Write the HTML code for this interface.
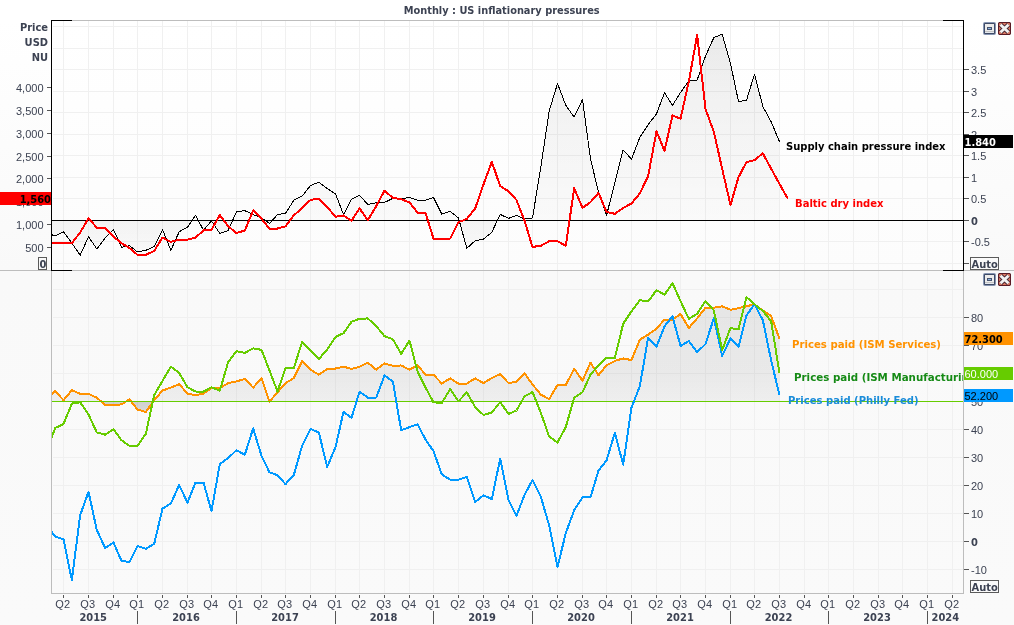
<!DOCTYPE html>
<html lang="en"><head><meta charset="utf-8"><title>Monthly : US inflationary pressures</title>
<style>
html,body{margin:0;padding:0;background:#fff;}
body{width:1014px;height:625px;overflow:hidden;font-family:"Liberation Sans","DejaVu Sans",sans-serif;}
svg{display:block}
</style></head><body>
<svg width="1014" height="625" viewBox="0 0 1014 625">
<defs>
<linearGradient id="bg1" x1="0" y1="0" x2="0" y2="1"><stop offset="0" stop-color="#ffffff"/><stop offset="1" stop-color="#f9f9f9"/></linearGradient>
<linearGradient id="bg1p" x1="0" y1="0" x2="0" y2="1"><stop offset="0" stop-color="#ffffff"/><stop offset="1" stop-color="#fcfcfc"/></linearGradient>
<linearGradient id="bg2" x1="0" y1="0" x2="0" y2="1"><stop offset="0" stop-color="#f9f9f9"/><stop offset="1" stop-color="#fafafa"/></linearGradient>
<linearGradient id="f1a" gradientUnits="userSpaceOnUse" x1="0" y1="34" x2="0" y2="220"><stop offset="0" stop-color="#000" stop-opacity="0.085"/><stop offset="0.3" stop-color="#000" stop-opacity="0.052"/><stop offset="1" stop-color="#000" stop-opacity="0.012"/></linearGradient>
<linearGradient id="f1b" gradientUnits="userSpaceOnUse" x1="0" y1="220" x2="0" y2="255"><stop offset="0" stop-color="#000" stop-opacity="0.042"/><stop offset="1" stop-color="#000" stop-opacity="0.012"/></linearGradient>
<linearGradient id="f2a" gradientUnits="userSpaceOnUse" x1="0" y1="304" x2="0" y2="401"><stop offset="0" stop-color="#000" stop-opacity="0.078"/><stop offset="0.7" stop-color="#000" stop-opacity="0.066"/><stop offset="1" stop-color="#000" stop-opacity="0.045"/></linearGradient>
<linearGradient id="f2b" gradientUnits="userSpaceOnUse" x1="0" y1="401" x2="0" y2="413"><stop offset="0" stop-color="#000" stop-opacity="0.17"/><stop offset="1" stop-color="#000" stop-opacity="0.13"/></linearGradient>
<clipPath id="c1"><rect x="52" y="21" width="911" height="249"/></clipPath>
<clipPath id="c2"><rect x="52" y="271" width="911" height="322"/></clipPath>
<clipPath id="c1a"><rect x="52" y="21" width="911" height="200"/></clipPath>
<clipPath id="c1b"><rect x="52" y="221" width="911" height="49"/></clipPath>
<clipPath id="c2a"><rect x="52" y="271" width="911" height="130.5"/></clipPath>
<clipPath id="c2b"><rect x="52" y="401.5" width="911" height="191"/></clipPath>
</defs>
<rect x="0" y="0" width="1014" height="625" fill="#fff"/>
<rect x="0" y="20" width="1014" height="250" fill="url(#bg1)"/>
<rect x="52" y="21" width="911" height="249" fill="url(#bg1p)"/>
<rect x="0" y="270" width="1014" height="355" fill="url(#bg2)"/>
<g shape-rendering="crispEdges" stroke="#f0f0f0" stroke-width="1" fill="none">
<line x1="63.5" y1="21" x2="63.5" y2="593"/>
<line x1="88.5" y1="21" x2="88.5" y2="593"/>
<line x1="113.5" y1="21" x2="113.5" y2="593"/>
<line x1="137.5" y1="21" x2="137.5" y2="593"/>
<line x1="162.5" y1="21" x2="162.5" y2="593"/>
<line x1="187.5" y1="21" x2="187.5" y2="593"/>
<line x1="211.5" y1="21" x2="211.5" y2="593"/>
<line x1="236.5" y1="21" x2="236.5" y2="593"/>
<line x1="261.5" y1="21" x2="261.5" y2="593"/>
<line x1="285.5" y1="21" x2="285.5" y2="593"/>
<line x1="310.5" y1="21" x2="310.5" y2="593"/>
<line x1="335.5" y1="21" x2="335.5" y2="593"/>
<line x1="359.5" y1="21" x2="359.5" y2="593"/>
<line x1="384.5" y1="21" x2="384.5" y2="593"/>
<line x1="409.5" y1="21" x2="409.5" y2="593"/>
<line x1="433.5" y1="21" x2="433.5" y2="593"/>
<line x1="458.5" y1="21" x2="458.5" y2="593"/>
<line x1="483.5" y1="21" x2="483.5" y2="593"/>
<line x1="508.5" y1="21" x2="508.5" y2="593"/>
<line x1="532.5" y1="21" x2="532.5" y2="593"/>
<line x1="557.5" y1="21" x2="557.5" y2="593"/>
<line x1="582.5" y1="21" x2="582.5" y2="593"/>
<line x1="606.5" y1="21" x2="606.5" y2="593"/>
<line x1="631.5" y1="21" x2="631.5" y2="593"/>
<line x1="656.5" y1="21" x2="656.5" y2="593"/>
<line x1="680.5" y1="21" x2="680.5" y2="593"/>
<line x1="705.5" y1="21" x2="705.5" y2="593"/>
<line x1="730.5" y1="21" x2="730.5" y2="593"/>
<line x1="754.5" y1="21" x2="754.5" y2="593"/>
<line x1="779.5" y1="21" x2="779.5" y2="593"/>
<line x1="804.5" y1="21" x2="804.5" y2="593"/>
<line x1="828.5" y1="21" x2="828.5" y2="593"/>
<line x1="853.5" y1="21" x2="853.5" y2="593"/>
<line x1="878.5" y1="21" x2="878.5" y2="593"/>
<line x1="902.5" y1="21" x2="902.5" y2="593"/>
<line x1="927.5" y1="21" x2="927.5" y2="593"/>
<line x1="952.5" y1="21" x2="952.5" y2="593"/>
<line x1="53" y1="263.5" x2="963" y2="263.5"/>
<line x1="53" y1="241.5" x2="963" y2="241.5"/>
<line x1="53" y1="198.5" x2="963" y2="198.5"/>
<line x1="53" y1="177.5" x2="963" y2="177.5"/>
<line x1="53" y1="155.5" x2="963" y2="155.5"/>
<line x1="53" y1="134.5" x2="963" y2="134.5"/>
<line x1="53" y1="112.5" x2="963" y2="112.5"/>
<line x1="53" y1="91.5" x2="963" y2="91.5"/>
<line x1="53" y1="69.5" x2="963" y2="69.5"/>
<line x1="53" y1="48.5" x2="963" y2="48.5"/>
<line x1="53" y1="26.5" x2="963" y2="26.5"/>
<line x1="53" y1="569.5" x2="963" y2="569.5"/>
<line x1="53" y1="541.5" x2="963" y2="541.5"/>
<line x1="53" y1="513.5" x2="963" y2="513.5"/>
<line x1="53" y1="485.5" x2="963" y2="485.5"/>
<line x1="53" y1="457.5" x2="963" y2="457.5"/>
<line x1="53" y1="429.5" x2="963" y2="429.5"/>
<line x1="53" y1="373.5" x2="963" y2="373.5"/>
<line x1="53" y1="345.5" x2="963" y2="345.5"/>
<line x1="53" y1="317.5" x2="963" y2="317.5"/>
<line x1="53" y1="289.5" x2="963" y2="289.5"/>
</g>
<path d="M47.04,220.5 L47.04,233.00 L55.27,236.03 L63.50,231.66 L71.83,243.08 L80.17,255.18 L88.50,236.70 L96.83,248.97 L105.17,238.04 L113.50,229.64 L121.50,247.28 L129.50,245.60 L137.50,251.99 L145.83,250.31 L154.17,246.44 L162.50,229.64 L170.83,250.31 L179.17,231.83 L187.50,227.12 L195.50,215.36 L203.50,230.15 L211.50,220.91 L219.83,233.55 L228.17,230.52 L236.50,211.71 L244.83,210.70 L253.17,214.56 L261.50,217.92 L269.50,223.47 L277.50,214.56 L285.50,213.39 L293.83,200.28 L302.17,196.08 L310.50,185.50 L318.83,182.14 L327.17,188.52 L335.50,193.90 L343.50,214.56 L351.50,199.11 L359.50,195.24 L367.83,204.48 L376.17,202.80 L384.50,202.42 L392.83,198.39 L401.17,198.72 L409.50,197.38 L417.50,200.07 L425.50,200.07 L433.50,197.38 L441.83,214.18 L450.17,211.32 L458.50,218.04 L466.83,248.29 L475.17,240.73 L483.50,239.05 L491.83,232.33 L500.17,214.35 L508.50,218.38 L516.50,215.52 L524.50,218.88 L532.50,218.00 L540.83,166.80 L549.17,111.20 L557.50,83.50 L565.83,105.40 L574.17,117.10 L582.50,99.50 L590.50,159.00 L598.50,192.00 L606.50,215.50 L614.83,182.70 L623.17,149.90 L631.50,159.10 L639.83,137.30 L648.17,124.70 L656.50,113.80 L664.50,92.80 L672.50,105.40 L680.50,92.50 L688.83,81.00 L697.17,80.00 L705.50,56.10 L713.83,37.60 L722.17,34.30 L730.50,63.70 L738.50,101.50 L746.50,100.30 L754.50,74.10 L762.83,106.50 L771.17,121.80 L779.50,141.75 L779.50,220.5 Z" fill="url(#f1a)" clip-path="url(#c1a)"/>
<path d="M47.04,220.5 L47.04,233.00 L55.27,236.03 L63.50,231.66 L71.83,243.08 L80.17,255.18 L88.50,236.70 L96.83,248.97 L105.17,238.04 L113.50,229.64 L121.50,247.28 L129.50,245.60 L137.50,251.99 L145.83,250.31 L154.17,246.44 L162.50,229.64 L170.83,250.31 L179.17,231.83 L187.50,227.12 L195.50,215.36 L203.50,230.15 L211.50,220.91 L219.83,233.55 L228.17,230.52 L236.50,211.71 L244.83,210.70 L253.17,214.56 L261.50,217.92 L269.50,223.47 L277.50,214.56 L285.50,213.39 L293.83,200.28 L302.17,196.08 L310.50,185.50 L318.83,182.14 L327.17,188.52 L335.50,193.90 L343.50,214.56 L351.50,199.11 L359.50,195.24 L367.83,204.48 L376.17,202.80 L384.50,202.42 L392.83,198.39 L401.17,198.72 L409.50,197.38 L417.50,200.07 L425.50,200.07 L433.50,197.38 L441.83,214.18 L450.17,211.32 L458.50,218.04 L466.83,248.29 L475.17,240.73 L483.50,239.05 L491.83,232.33 L500.17,214.35 L508.50,218.38 L516.50,215.52 L524.50,218.88 L532.50,218.00 L540.83,166.80 L549.17,111.20 L557.50,83.50 L565.83,105.40 L574.17,117.10 L582.50,99.50 L590.50,159.00 L598.50,192.00 L606.50,215.50 L614.83,182.70 L623.17,149.90 L631.50,159.10 L639.83,137.30 L648.17,124.70 L656.50,113.80 L664.50,92.80 L672.50,105.40 L680.50,92.50 L688.83,81.00 L697.17,80.00 L705.50,56.10 L713.83,37.60 L722.17,34.30 L730.50,63.70 L738.50,101.50 L746.50,100.30 L754.50,74.10 L762.83,106.50 L771.17,121.80 L779.50,141.75 L779.50,220.5 Z" fill="url(#f1b)" clip-path="url(#c1b)"/>
<line x1="52" y1="220.5" x2="963" y2="220.5" stroke="#000" stroke-width="1" shape-rendering="crispEdges"/>
<polyline points="47.04,233.00 55.27,236.03 63.50,231.66 71.83,243.08 80.17,255.18 88.50,236.70 96.83,248.97 105.17,238.04 113.50,229.64 121.50,247.28 129.50,245.60 137.50,251.99 145.83,250.31 154.17,246.44 162.50,229.64 170.83,250.31 179.17,231.83 187.50,227.12 195.50,215.36 203.50,230.15 211.50,220.91 219.83,233.55 228.17,230.52 236.50,211.71 244.83,210.70 253.17,214.56 261.50,217.92 269.50,223.47 277.50,214.56 285.50,213.39 293.83,200.28 302.17,196.08 310.50,185.50 318.83,182.14 327.17,188.52 335.50,193.90 343.50,214.56 351.50,199.11 359.50,195.24 367.83,204.48 376.17,202.80 384.50,202.42 392.83,198.39 401.17,198.72 409.50,197.38 417.50,200.07 425.50,200.07 433.50,197.38 441.83,214.18 450.17,211.32 458.50,218.04 466.83,248.29 475.17,240.73 483.50,239.05 491.83,232.33 500.17,214.35 508.50,218.38 516.50,215.52 524.50,218.88 532.50,218.00 540.83,166.80 549.17,111.20 557.50,83.50 565.83,105.40 574.17,117.10 582.50,99.50 590.50,159.00 598.50,192.00 606.50,215.50 614.83,182.70 623.17,149.90 631.50,159.10 639.83,137.30 648.17,124.70 656.50,113.80 664.50,92.80 672.50,105.40 680.50,92.50 688.83,81.00 697.17,80.00 705.50,56.10 713.83,37.60 722.17,34.30 730.50,63.70 738.50,101.50 746.50,100.30 754.50,74.10 762.83,106.50 771.17,121.80 779.50,141.75" fill="none" stroke="#000" stroke-width="1" stroke-linejoin="round" shape-rendering="crispEdges" clip-path="url(#c1)"/>
<polyline points="47.04,244.76 55.27,242.58 63.50,242.58 71.83,243.08 80.17,232.50 88.50,218.39 96.83,227.63 105.17,227.96 113.50,236.87 121.50,243.08 129.50,248.12 137.50,254.85 145.83,254.85 154.17,250.98 162.50,237.54 170.83,241.91 179.17,239.72 187.50,239.72 195.50,237.54 203.50,230.48 211.50,229.64 219.83,215.07 228.17,226.32 236.50,233.04 244.83,230.52 253.17,210.36 261.50,218.76 269.50,228.84 277.50,228.51 285.50,226.32 293.83,215.40 302.17,207.84 310.50,199.95 318.83,198.60 327.17,207.00 335.50,216.75 343.50,215.40 351.50,220.95 359.50,208.35 367.83,220.11 376.17,206.16 384.50,190.66 392.83,197.88 401.17,199.23 409.50,202.42 417.50,212.67 425.50,213.00 433.50,238.54 441.83,238.54 450.17,238.54 458.50,222.24 466.83,218.88 475.17,208.47 483.50,184.44 491.83,161.76 500.17,186.12 508.50,191.16 516.50,200.07 524.50,220.56 532.50,246.94 540.83,245.77 549.17,241.23 557.50,241.23 565.83,245.77 574.17,188.31 582.50,207.96 590.50,202.08 598.50,192.84 606.50,211.83 614.83,213.84 623.17,207.96 631.50,203.43 639.83,193.35 648.17,176.04 656.50,131.40 664.50,150.70 672.50,115.40 680.50,118.80 688.83,81.50 697.17,34.80 705.50,109.00 713.83,131.80 722.17,168.80 730.50,204.90 738.50,177.20 746.50,162.10 754.50,160.10 762.83,153.30 771.17,168.80 779.50,183.90 787.83,198.80" fill="none" stroke="#ff0000" stroke-width="2" stroke-linejoin="round" shape-rendering="crispEdges" clip-path="url(#c1)"/>
<path d="M47.04,401.5 L47.04,397.72 L55.27,391.00 L63.50,400.24 L71.83,390.16 L80.17,393.86 L88.50,393.86 L96.83,397.72 L105.17,404.78 L113.50,404.78 L121.50,404.44 L129.50,399.40 L137.50,409.48 L145.83,412.00 L154.17,400.24 L162.50,390.50 L170.83,387.64 L179.17,384.28 L187.50,393.52 L195.50,395.20 L203.50,393.52 L211.50,388.17 L219.83,388.17 L228.17,383.12 L236.50,381.44 L244.83,378.92 L253.17,387.66 L261.50,378.08 L269.50,401.61 L277.50,392.37 L285.50,383.12 L293.83,378.08 L302.17,360.95 L310.50,369.68 L318.83,374.72 L327.17,369.18 L335.50,368.51 L343.50,366.66 L351.50,368.84 L359.50,366.83 L367.83,362.63 L376.17,369.64 L384.50,363.43 L392.83,365.78 L401.17,365.44 L409.50,369.64 L417.50,365.11 L425.50,374.68 L433.50,374.68 L441.83,383.59 L450.17,378.38 L458.50,383.59 L466.83,383.59 L475.17,378.38 L483.50,383.08 L491.83,378.04 L500.17,374.18 L508.50,383.08 L516.50,381.91 L524.50,373.34 L532.50,384.48 L540.83,394.56 L549.17,399.10 L557.50,384.99 L565.83,384.82 L574.17,368.86 L582.50,380.62 L590.50,362.64 L598.50,375.24 L606.50,365.16 L614.83,360.96 L623.17,358.44 L631.50,360.12 L639.83,339.68 L648.17,334.64 L656.50,328.76 L664.50,319.52 L672.50,319.52 L680.50,313.98 L688.83,327.92 L697.17,318.35 L705.50,307.64 L713.83,307.64 L722.17,306.30 L730.50,309.83 L738.50,308.15 L746.50,306.30 L754.50,304.28 L762.83,310.50 L771.17,316.04 L779.50,338.72 L779.50,401.5 Z" fill="url(#f2a)" clip-path="url(#c2a)"/>
<path d="M47.04,401.5 L47.04,397.72 L55.27,391.00 L63.50,400.24 L71.83,390.16 L80.17,393.86 L88.50,393.86 L96.83,397.72 L105.17,404.78 L113.50,404.78 L121.50,404.44 L129.50,399.40 L137.50,409.48 L145.83,412.00 L154.17,400.24 L162.50,390.50 L170.83,387.64 L179.17,384.28 L187.50,393.52 L195.50,395.20 L203.50,393.52 L211.50,388.17 L219.83,388.17 L228.17,383.12 L236.50,381.44 L244.83,378.92 L253.17,387.66 L261.50,378.08 L269.50,401.61 L277.50,392.37 L285.50,383.12 L293.83,378.08 L302.17,360.95 L310.50,369.68 L318.83,374.72 L327.17,369.18 L335.50,368.51 L343.50,366.66 L351.50,368.84 L359.50,366.83 L367.83,362.63 L376.17,369.64 L384.50,363.43 L392.83,365.78 L401.17,365.44 L409.50,369.64 L417.50,365.11 L425.50,374.68 L433.50,374.68 L441.83,383.59 L450.17,378.38 L458.50,383.59 L466.83,383.59 L475.17,378.38 L483.50,383.08 L491.83,378.04 L500.17,374.18 L508.50,383.08 L516.50,381.91 L524.50,373.34 L532.50,384.48 L540.83,394.56 L549.17,399.10 L557.50,384.99 L565.83,384.82 L574.17,368.86 L582.50,380.62 L590.50,362.64 L598.50,375.24 L606.50,365.16 L614.83,360.96 L623.17,358.44 L631.50,360.12 L639.83,339.68 L648.17,334.64 L656.50,328.76 L664.50,319.52 L672.50,319.52 L680.50,313.98 L688.83,327.92 L697.17,318.35 L705.50,307.64 L713.83,307.64 L722.17,306.30 L730.50,309.83 L738.50,308.15 L746.50,306.30 L754.50,304.28 L762.83,310.50 L771.17,316.04 L779.50,338.72 L779.50,401.5 Z" fill="url(#f2b)" clip-path="url(#c2b)"/>
<polyline points="47.04,397.72 55.27,391.00 63.50,400.24 71.83,390.16 80.17,393.86 88.50,393.86 96.83,397.72 105.17,404.78 113.50,404.78 121.50,404.44 129.50,399.40 137.50,409.48 145.83,412.00 154.17,400.24 162.50,390.50 170.83,387.64 179.17,384.28 187.50,393.52 195.50,395.20 203.50,393.52 211.50,388.17 219.83,388.17 228.17,383.12 236.50,381.44 244.83,378.92 253.17,387.66 261.50,378.08 269.50,401.61 277.50,392.37 285.50,383.12 293.83,378.08 302.17,360.95 310.50,369.68 318.83,374.72 327.17,369.18 335.50,368.51 343.50,366.66 351.50,368.84 359.50,366.83 367.83,362.63 376.17,369.64 384.50,363.43 392.83,365.78 401.17,365.44 409.50,369.64 417.50,365.11 425.50,374.68 433.50,374.68 441.83,383.59 450.17,378.38 458.50,383.59 466.83,383.59 475.17,378.38 483.50,383.08 491.83,378.04 500.17,374.18 508.50,383.08 516.50,381.91 524.50,373.34 532.50,384.48 540.83,394.56 549.17,399.10 557.50,384.99 565.83,384.82 574.17,368.86 582.50,380.62 590.50,362.64 598.50,375.24 606.50,365.16 614.83,360.96 623.17,358.44 631.50,360.12 639.83,339.68 648.17,334.64 656.50,328.76 664.50,319.52 672.50,319.52 680.50,313.98 688.83,327.92 697.17,318.35 705.50,307.64 713.83,307.64 722.17,306.30 730.50,309.83 738.50,308.15 746.50,306.30 754.50,304.28 762.83,310.50 771.17,316.04 779.50,338.72" fill="none" stroke="#ff9200" stroke-width="2" stroke-linejoin="round" shape-rendering="crispEdges" clip-path="url(#c2)"/>
<line x1="52" y1="401.5" x2="963" y2="401.5" stroke="#66cc00" stroke-width="1" shape-rendering="crispEdges"/>
<polyline points="47.04,525.36 55.27,536.79 63.50,539.14 71.83,579.97 80.17,515.28 88.50,491.76 96.83,530.07 105.17,548.04 113.50,542.50 121.50,560.98 129.50,561.99 137.50,545.86 145.83,548.88 154.17,543.84 162.50,508.56 170.83,503.52 179.17,485.04 187.50,502.68 195.50,482.52 203.50,482.52 211.50,511.08 219.83,463.97 228.17,458.08 236.50,450.19 244.83,454.72 253.17,428.35 261.50,455.90 269.50,472.37 277.50,475.22 285.50,484.13 293.83,474.89 302.17,445.48 310.50,429.02 318.83,432.38 327.17,466.99 335.50,447.16 343.50,411.88 351.50,417.76 359.50,391.72 367.83,397.60 376.17,397.60 384.50,375.52 392.83,381.40 401.17,430.16 409.50,427.14 417.50,424.28 425.50,439.40 433.50,451.16 441.83,474.35 450.17,479.72 458.50,479.72 466.83,476.87 475.17,502.07 483.50,495.35 491.83,499.05 500.17,458.72 508.50,499.89 516.50,515.85 524.50,494.85 532.50,480.04 540.83,496.84 549.17,525.40 557.50,567.07 565.83,532.96 574.17,510.28 582.50,497.35 590.50,497.35 598.50,470.56 606.50,460.48 614.83,432.76 623.17,464.68 631.50,407.56 639.83,386.20 648.17,337.58 656.50,346.83 664.50,326.36 672.50,316.26 680.50,345.99 688.83,340.94 697.17,352.16 705.50,344.03 713.83,318.22 722.17,355.81 730.50,338.42 738.50,346.83 746.50,315.42 754.50,304.20 762.83,320.19 771.17,360.58 779.50,395.08" fill="none" stroke="#0099ff" stroke-width="2" stroke-linejoin="round" shape-rendering="crispEdges" clip-path="url(#c2)"/>
<polyline points="47.04,449.81 55.27,427.96 63.50,424.10 71.83,403.60 80.17,402.26 88.50,414.52 96.83,432.50 105.17,434.68 113.50,429.14 121.50,440.23 129.50,445.94 137.50,445.94 145.83,433.84 154.17,395.20 162.50,380.92 170.83,366.64 179.17,373.02 187.50,387.31 195.50,391.51 203.50,391.51 211.50,387.33 219.83,390.69 228.17,362.12 236.50,351.20 244.83,352.88 253.17,348.35 261.50,349.86 269.50,370.52 277.50,391.53 285.50,368.34 293.83,368.00 302.17,341.96 310.50,350.36 318.83,359.10 327.17,349.52 335.50,336.92 343.50,333.23 351.50,321.80 359.50,318.78 367.83,318.44 376.17,326.08 384.50,336.17 392.83,339.26 401.17,353.85 409.50,340.66 417.50,371.24 425.50,387.51 433.50,402.37 441.83,402.93 450.17,389.19 458.50,401.25 466.83,392.27 475.17,407.14 483.50,414.99 491.83,412.47 500.17,402.09 508.50,413.87 516.50,410.51 524.50,396.48 532.50,391.99 540.83,412.75 549.17,436.59 557.50,442.48 565.83,427.06 574.17,397.60 582.50,392.27 590.50,374.60 598.50,365.35 606.50,357.77 614.83,358.05 623.17,323.83 631.50,311.21 639.83,300.27 648.17,301.39 656.50,290.17 664.50,294.66 672.50,283.16 680.50,301.11 688.83,318.78 697.17,313.73 705.50,301.11 713.83,310.37 722.17,350.20 730.50,328.04 738.50,329.44 746.50,297.18 754.50,304.20 762.83,310.93 771.17,321.31 779.50,373.20" fill="none" stroke="#66cc00" stroke-width="2" stroke-linejoin="round" shape-rendering="crispEdges" clip-path="url(#c2)"/>
<g shape-rendering="crispEdges" fill="none" stroke-width="1">
<line x1="51" y1="20.5" x2="964" y2="20.5" stroke="#bdbdbd"/>
<line x1="0" y1="270.5" x2="1014" y2="270.5" stroke="#bdbdbd"/>
<line x1="51" y1="593.5" x2="964" y2="593.5" stroke="#bdbdbd"/>
<line x1="51.5" y1="270" x2="51.5" y2="594" stroke="#bdbdbd"/>
<line x1="963.5" y1="270" x2="963.5" y2="594" stroke="#bdbdbd"/>
<line x1="51.5" y1="20" x2="51.5" y2="271" stroke="#000"/>
<line x1="963.5" y1="20" x2="963.5" y2="271" stroke="#000"/>
<line x1="51" y1="20.5" x2="72" y2="20.5" stroke="#000"/>
<line x1="943" y1="20.5" x2="964" y2="20.5" stroke="#000"/>
<line x1="51" y1="270.5" x2="72" y2="270.5" stroke="#000"/>
<line x1="943" y1="270.5" x2="964" y2="270.5" stroke="#000"/>
<line x1="47" y1="247.5" x2="51" y2="247.5" stroke="#555"/>
<line x1="47" y1="224.5" x2="51" y2="224.5" stroke="#555"/>
<line x1="47" y1="201.5" x2="51" y2="201.5" stroke="#555"/>
<line x1="47" y1="178.5" x2="51" y2="178.5" stroke="#555"/>
<line x1="47" y1="156.5" x2="51" y2="156.5" stroke="#555"/>
<line x1="47" y1="133.5" x2="51" y2="133.5" stroke="#555"/>
<line x1="47" y1="110.5" x2="51" y2="110.5" stroke="#555"/>
<line x1="47" y1="87.5" x2="51" y2="87.5" stroke="#555"/>
<line x1="964" y1="263.5" x2="969" y2="263.5" stroke="#555"/>
<line x1="964" y1="241.5" x2="969" y2="241.5" stroke="#555"/>
<line x1="964" y1="220.5" x2="969" y2="220.5" stroke="#555"/>
<line x1="964" y1="198.5" x2="969" y2="198.5" stroke="#555"/>
<line x1="964" y1="177.5" x2="969" y2="177.5" stroke="#555"/>
<line x1="964" y1="155.5" x2="969" y2="155.5" stroke="#555"/>
<line x1="964" y1="134.5" x2="969" y2="134.5" stroke="#555"/>
<line x1="964" y1="112.5" x2="969" y2="112.5" stroke="#555"/>
<line x1="964" y1="91.5" x2="969" y2="91.5" stroke="#555"/>
<line x1="964" y1="69.5" x2="969" y2="69.5" stroke="#555"/>
<line x1="964" y1="569.5" x2="969" y2="569.5" stroke="#555"/>
<line x1="964" y1="541.5" x2="969" y2="541.5" stroke="#555"/>
<line x1="964" y1="513.5" x2="969" y2="513.5" stroke="#555"/>
<line x1="964" y1="485.5" x2="969" y2="485.5" stroke="#555"/>
<line x1="964" y1="457.5" x2="969" y2="457.5" stroke="#555"/>
<line x1="964" y1="429.5" x2="969" y2="429.5" stroke="#555"/>
<line x1="964" y1="401.5" x2="969" y2="401.5" stroke="#555"/>
<line x1="964" y1="373.5" x2="969" y2="373.5" stroke="#555"/>
<line x1="964" y1="345.5" x2="969" y2="345.5" stroke="#555"/>
<line x1="964" y1="317.5" x2="969" y2="317.5" stroke="#555"/>
<line x1="63.5" y1="595" x2="63.5" y2="598" stroke="#555"/>
<line x1="88.5" y1="595" x2="88.5" y2="598" stroke="#555"/>
<line x1="113.5" y1="595" x2="113.5" y2="598" stroke="#555"/>
<line x1="137.5" y1="595" x2="137.5" y2="598" stroke="#555"/>
<line x1="137.5" y1="611" x2="137.5" y2="624" stroke="#555"/>
<line x1="162.5" y1="595" x2="162.5" y2="598" stroke="#555"/>
<line x1="187.5" y1="595" x2="187.5" y2="598" stroke="#555"/>
<line x1="211.5" y1="595" x2="211.5" y2="598" stroke="#555"/>
<line x1="236.5" y1="595" x2="236.5" y2="598" stroke="#555"/>
<line x1="236.5" y1="611" x2="236.5" y2="624" stroke="#555"/>
<line x1="261.5" y1="595" x2="261.5" y2="598" stroke="#555"/>
<line x1="285.5" y1="595" x2="285.5" y2="598" stroke="#555"/>
<line x1="310.5" y1="595" x2="310.5" y2="598" stroke="#555"/>
<line x1="335.5" y1="595" x2="335.5" y2="598" stroke="#555"/>
<line x1="335.5" y1="611" x2="335.5" y2="624" stroke="#555"/>
<line x1="359.5" y1="595" x2="359.5" y2="598" stroke="#555"/>
<line x1="384.5" y1="595" x2="384.5" y2="598" stroke="#555"/>
<line x1="409.5" y1="595" x2="409.5" y2="598" stroke="#555"/>
<line x1="433.5" y1="595" x2="433.5" y2="598" stroke="#555"/>
<line x1="433.5" y1="611" x2="433.5" y2="624" stroke="#555"/>
<line x1="458.5" y1="595" x2="458.5" y2="598" stroke="#555"/>
<line x1="483.5" y1="595" x2="483.5" y2="598" stroke="#555"/>
<line x1="508.5" y1="595" x2="508.5" y2="598" stroke="#555"/>
<line x1="532.5" y1="595" x2="532.5" y2="598" stroke="#555"/>
<line x1="532.5" y1="611" x2="532.5" y2="624" stroke="#555"/>
<line x1="557.5" y1="595" x2="557.5" y2="598" stroke="#555"/>
<line x1="582.5" y1="595" x2="582.5" y2="598" stroke="#555"/>
<line x1="606.5" y1="595" x2="606.5" y2="598" stroke="#555"/>
<line x1="631.5" y1="595" x2="631.5" y2="598" stroke="#555"/>
<line x1="631.5" y1="611" x2="631.5" y2="624" stroke="#555"/>
<line x1="656.5" y1="595" x2="656.5" y2="598" stroke="#555"/>
<line x1="680.5" y1="595" x2="680.5" y2="598" stroke="#555"/>
<line x1="705.5" y1="595" x2="705.5" y2="598" stroke="#555"/>
<line x1="730.5" y1="595" x2="730.5" y2="598" stroke="#555"/>
<line x1="730.5" y1="611" x2="730.5" y2="624" stroke="#555"/>
<line x1="754.5" y1="595" x2="754.5" y2="598" stroke="#555"/>
<line x1="779.5" y1="595" x2="779.5" y2="598" stroke="#555"/>
<line x1="804.5" y1="595" x2="804.5" y2="598" stroke="#555"/>
<line x1="828.5" y1="595" x2="828.5" y2="598" stroke="#555"/>
<line x1="828.5" y1="611" x2="828.5" y2="624" stroke="#555"/>
<line x1="853.5" y1="595" x2="853.5" y2="598" stroke="#555"/>
<line x1="878.5" y1="595" x2="878.5" y2="598" stroke="#555"/>
<line x1="902.5" y1="595" x2="902.5" y2="598" stroke="#555"/>
<line x1="927.5" y1="595" x2="927.5" y2="598" stroke="#555"/>
<line x1="927.5" y1="611" x2="927.5" y2="624" stroke="#555"/>
<line x1="952.5" y1="595" x2="952.5" y2="598" stroke="#555"/>
</g>
<g font-family="'Liberation Sans','DejaVu Sans Condensed',sans-serif" font-size="11px" fill="#3c4252">
<text x="43.5" y="251.8" text-anchor="end">500</text>
<text x="43.5" y="228.8" text-anchor="end">1,000</text>
<text x="43.5" y="205.8" text-anchor="end">1,500</text>
<text x="43.5" y="182.8" text-anchor="end">2,000</text>
<text x="43.5" y="160.8" text-anchor="end">2,500</text>
<text x="43.5" y="137.8" text-anchor="end">3,000</text>
<text x="43.5" y="114.8" text-anchor="end">3,500</text>
<text x="43.5" y="91.8" text-anchor="end">4,000</text>
<text x="971" y="245.8">-0.5</text>
<text x="971" y="202.8">0.5</text>
<text x="971" y="181.8">1</text>
<text x="971" y="159.8">1.5</text>
<text x="971" y="138.8">2</text>
<text x="971" y="116.8">2.5</text>
<text x="971" y="95.8">3</text>
<text x="971" y="73.8">3.5</text>
<text x="971" y="573.8">-10</text>
<text x="971" y="517.8">10</text>
<text x="971" y="489.8">20</text>
<text x="971" y="461.8">30</text>
<text x="971" y="433.8">40</text>
<text x="971" y="405.8">50</text>
<text x="971" y="377.8">60</text>
<text x="971" y="349.8">70</text>
<text x="971" y="321.8">80</text>
<text x="62.7" y="608" text-anchor="middle">Q2</text>
<text x="87.7" y="608" text-anchor="middle">Q3</text>
<text x="112.7" y="608" text-anchor="middle">Q4</text>
<text x="136.7" y="608" text-anchor="middle">Q1</text>
<text x="161.7" y="608" text-anchor="middle">Q2</text>
<text x="186.7" y="608" text-anchor="middle">Q3</text>
<text x="210.7" y="608" text-anchor="middle">Q4</text>
<text x="235.7" y="608" text-anchor="middle">Q1</text>
<text x="260.7" y="608" text-anchor="middle">Q2</text>
<text x="284.7" y="608" text-anchor="middle">Q3</text>
<text x="309.7" y="608" text-anchor="middle">Q4</text>
<text x="334.7" y="608" text-anchor="middle">Q1</text>
<text x="358.7" y="608" text-anchor="middle">Q2</text>
<text x="383.7" y="608" text-anchor="middle">Q3</text>
<text x="408.7" y="608" text-anchor="middle">Q4</text>
<text x="432.7" y="608" text-anchor="middle">Q1</text>
<text x="457.7" y="608" text-anchor="middle">Q2</text>
<text x="482.7" y="608" text-anchor="middle">Q3</text>
<text x="507.7" y="608" text-anchor="middle">Q4</text>
<text x="531.7" y="608" text-anchor="middle">Q1</text>
<text x="556.7" y="608" text-anchor="middle">Q2</text>
<text x="581.7" y="608" text-anchor="middle">Q3</text>
<text x="605.7" y="608" text-anchor="middle">Q4</text>
<text x="630.7" y="608" text-anchor="middle">Q1</text>
<text x="655.7" y="608" text-anchor="middle">Q2</text>
<text x="679.7" y="608" text-anchor="middle">Q3</text>
<text x="704.7" y="608" text-anchor="middle">Q4</text>
<text x="729.7" y="608" text-anchor="middle">Q1</text>
<text x="753.7" y="608" text-anchor="middle">Q2</text>
<text x="778.7" y="608" text-anchor="middle">Q3</text>
<text x="803.7" y="608" text-anchor="middle">Q4</text>
<text x="827.7" y="608" text-anchor="middle">Q1</text>
<text x="852.7" y="608" text-anchor="middle">Q2</text>
<text x="877.7" y="608" text-anchor="middle">Q3</text>
<text x="901.7" y="608" text-anchor="middle">Q4</text>
<text x="926.7" y="608" text-anchor="middle">Q1</text>
<text x="951.7" y="608" text-anchor="middle">Q2</text>
</g>
<g font-family="'DejaVu Sans Condensed','Liberation Sans',sans-serif" font-size="11px" font-weight="bold" fill="#3c4252">
<text x="971" y="224.8">0</text>
<text x="971" y="545.8">0</text>
<text x="501.7" y="13.7" text-anchor="middle" textLength="196" lengthAdjust="spacingAndGlyphs">Monthly : US inflationary pressures</text>
<text x="48" y="31" text-anchor="end">Price</text>
<text x="48" y="46" text-anchor="end">USD</text>
<text x="48" y="61" text-anchor="end">NU</text>
<text x="93.2" y="621" text-anchor="middle">2015</text>
<text x="186.0" y="621" text-anchor="middle">2016</text>
<text x="285.0" y="621" text-anchor="middle">2017</text>
<text x="383.5" y="621" text-anchor="middle">2018</text>
<text x="482.0" y="621" text-anchor="middle">2019</text>
<text x="581.0" y="621" text-anchor="middle">2020</text>
<text x="680.0" y="621" text-anchor="middle">2021</text>
<text x="778.5" y="621" text-anchor="middle">2022</text>
<text x="877.0" y="621" text-anchor="middle">2023</text>
<text x="931.5" y="621">2024</text>
</g>
<g font-family="'DejaVu Sans Condensed','Liberation Sans',sans-serif" font-size="11px" font-weight="bold">
<rect x="0" y="192" width="51" height="13" fill="#ff0000"/>
<text x="51" y="203" text-anchor="end" fill="#000">1,560</text>
<rect x="964" y="135" width="49" height="13" fill="#000"/>
<text x="964.5" y="146" fill="#fff">1.840</text>
<rect x="964" y="332" width="49" height="13" fill="#ff9200"/>
<text x="964.5" y="343" fill="#000">72.300</text>
</g>
<g font-family="'Liberation Sans','DejaVu Sans Condensed',sans-serif" font-size="11px">
<rect x="964" y="367" width="49" height="13" fill="#66cc00"/>
<text x="964.5" y="378" fill="#fff">60.000</text>
<rect x="964" y="389" width="49" height="13" fill="#0099ff"/>
<text x="964.5" y="400" fill="#000">52.200</text>
</g>
<g font-family="'DejaVu Sans Condensed','Liberation Sans',sans-serif" font-size="11px" font-weight="bold">
<text x="786" y="150" fill="#000" textLength="159.5" lengthAdjust="spacingAndGlyphs">Supply chain pressure index</text>
<text x="795" y="207" fill="#ff0000" textLength="88.5" lengthAdjust="spacingAndGlyphs">Baltic dry index</text>
<text x="792" y="348" fill="#ff9200" textLength="149" lengthAdjust="spacingAndGlyphs">Prices paid (ISM Services)</text>
<text x="794" y="381" fill="#158a15" clip-path="url(#c2)" textLength="187" lengthAdjust="spacingAndGlyphs">Prices paid (ISM Manufacturing)</text>
<text x="788" y="404" fill="#1a8cd9" textLength="130.5" lengthAdjust="spacingAndGlyphs">Prices paid (Philly Fed)</text>
</g>
<rect x="970.5" y="257.5" width="28" height="12" fill="none" stroke="#5a5a5a" stroke-width="1" shape-rendering="crispEdges"/>
<text x="971.5" y="268" font-family="'DejaVu Sans Condensed','Liberation Sans',sans-serif" font-size="11px" font-weight="bold" fill="#3c4252">Auto</text>
<rect x="970.5" y="580.5" width="28" height="12" fill="none" stroke="#5a5a5a" stroke-width="1" shape-rendering="crispEdges"/>
<text x="971.5" y="591" font-family="'DejaVu Sans Condensed','Liberation Sans',sans-serif" font-size="11px" font-weight="bold" fill="#3c4252">Auto</text>
<rect x="38.5" y="257.5" width="8" height="12" fill="none" stroke="#5a5a5a" stroke-width="1" shape-rendering="crispEdges"/>
<text x="39.5" y="268" font-family="'DejaVu Sans Condensed','Liberation Sans',sans-serif" font-size="11px" font-weight="bold" fill="#3c4252">0</text>
<rect x="983" y="22" width="13" height="13" rx="2" fill="#8796b3"/>
<rect x="984" y="23" width="11" height="11" rx="1" fill="#3f4b66"/>
<rect x="985" y="24" width="9" height="9" fill="#ececec"/>
<rect x="985" y="31" width="9" height="1" fill="#c4c4c4"/>
<rect x="985" y="32" width="9" height="1" fill="#e4e8ee"/>
<rect x="987" y="27" width="5" height="3" fill="#46536f"/>
<rect x="988" y="28" width="3" height="1" fill="#8db4e0"/>
<rect x="998" y="22" width="13" height="13" rx="2" fill="#5a1a24"/>
<rect x="999" y="23" width="11" height="11" fill="#dc7a64"/>
<path d="M1000.5,24.8 L1008.5,32.2 M1008.5,24.8 L1000.5,32.2" stroke="#4a2a35" stroke-width="4.8" fill="none"/>
<path d="M1000.5,24.8 L1008.5,32.2 M1008.5,24.8 L1000.5,32.2" stroke="#f2f2f2" stroke-width="2.9" fill="none"/>
<rect x="998.5" y="22.5" width="12" height="12" rx="1.5" fill="none" stroke="#5a1a24" stroke-width="1"/>
<rect x="983" y="273" width="13" height="13" rx="2" fill="#8796b3"/>
<rect x="984" y="274" width="11" height="11" rx="1" fill="#3f4b66"/>
<rect x="985" y="275" width="9" height="9" fill="#ececec"/>
<rect x="985" y="282" width="9" height="1" fill="#c4c4c4"/>
<rect x="985" y="283" width="9" height="1" fill="#e4e8ee"/>
<rect x="987" y="278" width="5" height="3" fill="#46536f"/>
<rect x="988" y="279" width="3" height="1" fill="#8db4e0"/>
<rect x="998" y="273" width="13" height="13" rx="2" fill="#5a1a24"/>
<rect x="999" y="274" width="11" height="11" fill="#dc7a64"/>
<path d="M1000.5,275.8 L1008.5,283.2 M1008.5,275.8 L1000.5,283.2" stroke="#4a2a35" stroke-width="4.8" fill="none"/>
<path d="M1000.5,275.8 L1008.5,283.2 M1008.5,275.8 L1000.5,283.2" stroke="#f2f2f2" stroke-width="2.9" fill="none"/>
<rect x="998.5" y="273.5" width="12" height="12" rx="1.5" fill="none" stroke="#5a1a24" stroke-width="1"/>
</svg>
</body></html>
